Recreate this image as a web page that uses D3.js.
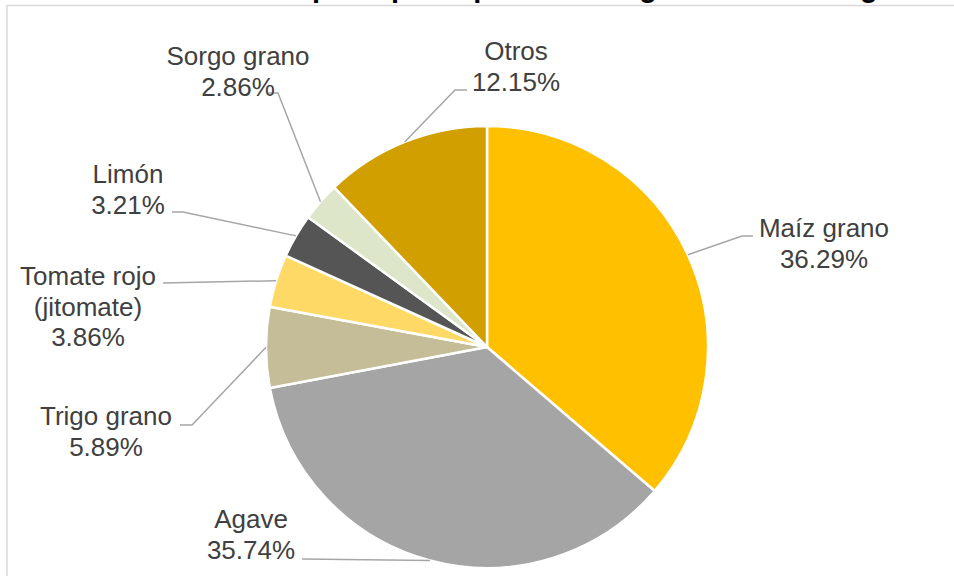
<!DOCTYPE html>
<html>
<head>
<meta charset="utf-8">
<script src="https://cdn.jsdelivr.net/npm/d3@7"></script>
<style>
  html, body { margin: 0; padding: 0; background: #fff; }
  svg { display: block; }
</style>
</head>
<body>
<svg id="chart" width="954" height="576"></svg>
<script>
// ---- data ----
const categories = ["Maíz grano", "Agave", "Trigo grano", "Tomate rojo\n(jitomate)", "Limón", "Sorgo grano", "Otros"];
const values = [36.29, 35.74, 5.89, 3.86, 3.21, 2.86, 12.15];
const valueLabels = ["36.29%", "35.74%", "5.89%", "3.86%", "3.21%", "2.86%", "12.15%"];
const colors = ["#FFC000", "#A5A5A5", "#C4BD97", "#FFD966", "#555555", "#DDE6C8", "#D19F00"];
const title = "Distribución de los principales productos agrícolas de la región Sierra de Jalisco";

// ---- layout (label positions) ----
const labelLayout = [
  { x: 824, y: 237, leader: [[742, 236], [753, 236]] },
  { x: 251, y: 528, leader: [[302, 559]] },
  { x: 106, y: 425, leader: [[192, 425], [180, 425]] },
  { x: 88,  y: 285, leader: [[163, 283]] },
  { x: 128, y: 183, leader: [[183, 212], [172, 212]] },
  { x: 238, y: 65,  leader: [[278, 93], [268, 93]] },
  { x: 516, y: 60,  leader: [[455, 90], [467, 90]] }
];

const svg = d3.select("#chart");
const cx = 487, cy = 347, r = 221;

// border
svg.append("rect")
  .attr("x", 7).attr("y", 5.5).attr("width", 1000).attr("height", 620)
  .attr("fill", "none").attr("stroke", "#d9d9d9").attr("stroke-width", 1.5);

// title (cropped at the top, as in the reference)
svg.append("text")
  .attr("x", 43).attr("y", -3)
  .attr("font-family", "Liberation Sans, Arial, sans-serif")
  .attr("font-weight", "bold").attr("font-size", 29)
  .attr("fill", "#000")
  .text(title);

const data = categories.map((c, i) => ({ name: c, value: values[i], label: valueLabels[i], color: colors[i], layout: labelLayout[i] }));

const pie = d3.pie().sort(null).value(d => d.value);
const arcs = pie(data);
const arc = d3.arc().innerRadius(0).outerRadius(r);

const g = svg.append("g").attr("transform", `translate(${cx},${cy})`);
g.selectAll("path").data(arcs).join("path")
  .attr("d", arc)
  .attr("fill", d => d.data.color)
  .attr("stroke", "#fff").attr("stroke-width", 2.5).attr("stroke-linejoin", "round");

// leader lines
const line = d3.line();
arcs.forEach(a => {
  const mid = (a.startAngle + a.endAngle) / 2;
  const p0 = [cx + r * Math.sin(mid), cy - r * Math.cos(mid)];
  const pts = [p0].concat(a.data.layout.leader);
  svg.append("path")
    .attr("d", line(pts))
    .attr("fill", "none").attr("stroke", "#a6a6a6").attr("stroke-width", 1.5);
});

// labels
arcs.forEach(a => {
  const lines = a.data.name.split("\n").concat([a.data.label]);
  const t = svg.append("text")
    .attr("font-family", "Liberation Sans, Arial, sans-serif")
    .attr("font-size", 26).attr("fill", "#404040")
    .attr("text-anchor", "middle");
  lines.forEach((s, k) => {
    t.append("tspan").attr("x", a.data.layout.x).attr("y", a.data.layout.y + k * 30.5).text(s);
  });
});
</script>
</body>
</html>
